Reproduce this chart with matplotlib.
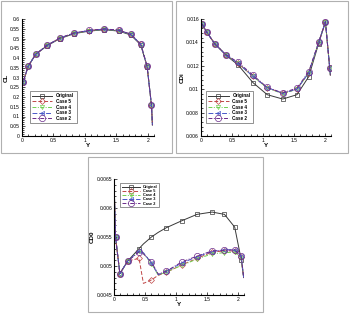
import numpy as np
import matplotlib
matplotlib.use('Agg')
import matplotlib.pyplot as plt
from matplotlib.patches import Rectangle
from matplotlib.ticker import MultipleLocator, AutoMinorLocator

plt.rcParams['font.family'] = ['Liberation Sans', 'DejaVu Sans']

# spanwise stations (Y)
y_cl = [0.0, 0.02, 0.10, 0.22, 0.40, 0.60, 0.83, 1.07, 1.31, 1.54, 1.73, 1.89, 1.99, 2.06, 2.075]
cl_orig = [0.25, 0.279, 0.359, 0.419, 0.463, 0.499, 0.525, 0.538, 0.545, 0.538, 0.518, 0.467, 0.356, 0.157, 0.056]
cl_case5 = [0.25, 0.279, 0.359, 0.420, 0.465, 0.502, 0.528, 0.541, 0.548, 0.542, 0.522, 0.470, 0.358, 0.158, 0.056]
cl_case4 = [0.25, 0.279, 0.359, 0.420, 0.465, 0.501, 0.527, 0.540, 0.547, 0.541, 0.521, 0.469, 0.358, 0.158, 0.056]
cl_case3 = [0.25, 0.279, 0.359, 0.420, 0.465, 0.502, 0.528, 0.541, 0.548, 0.542, 0.522, 0.470, 0.358, 0.158, 0.056]
cl_case2 = [0.25, 0.279, 0.359, 0.420, 0.465, 0.502, 0.528, 0.542, 0.549, 0.543, 0.522, 0.470, 0.358, 0.158, 0.056]

y_cdi = [0.0, 0.02, 0.09, 0.22, 0.40, 0.60, 0.84, 1.07, 1.32, 1.55, 1.74, 1.90, 2.01, 2.08, 2.09]
cdi_orig = [0.0156, 0.01554, 0.0149, 0.0139, 0.01292, 0.01207, 0.01056, 0.00953, 0.00916, 0.00953, 0.01107, 0.0139, 0.01574, 0.01178, 0.0112]
cdi_case5 = [0.0156, 0.01554, 0.0149, 0.0139, 0.01295, 0.0122, 0.0111, 0.01013, 0.00965, 0.0100, 0.0114, 0.0140, 0.01576, 0.01178, 0.0112]
cdi_case4 = [0.0156, 0.01554, 0.0149, 0.0139, 0.01295, 0.0122, 0.0111, 0.01010, 0.00962, 0.0100, 0.0114, 0.0140, 0.01576, 0.01178, 0.0112]
cdi_case3 = [0.0156, 0.01554, 0.0149, 0.0139, 0.01295, 0.0122, 0.0111, 0.01013, 0.00966, 0.0100, 0.0114, 0.0140, 0.01576, 0.01178, 0.0112]
cdi_case2 = [0.0156, 0.01554, 0.0149, 0.0139, 0.01296, 0.0123, 0.0112, 0.01015, 0.00968, 0.0101, 0.0115, 0.0140, 0.01576, 0.01178, 0.0112]

y_cd0 = [0.0, 0.02, 0.09, 0.22, 0.40, 0.47, 0.60, 0.71, 0.84, 1.09, 1.335, 1.58, 1.78, 1.945, 2.05, 2.09]
cd0_orig = [0.0063, 0.0055, 0.00487, 0.00509, 0.00530, 0.00538, 0.00550, 0.00558, 0.00566, 0.00578, 0.00589, 0.00593, 0.00589, 0.00567, 0.00511, 0.00480]
cd0_case5 = [0.0063, 0.0055, 0.00487, 0.00509, 0.00513, 0.00470, 0.00476, 0.00484, 0.00489, 0.00502, 0.00513, 0.00524, 0.00526, 0.00526, 0.00515, 0.00480]
cd0_case4 = [0.0063, 0.0055, 0.00487, 0.00509, 0.00526, 0.00522, 0.00504, 0.00484, 0.00490, 0.00501, 0.00512, 0.00521, 0.00523, 0.00524, 0.00514, 0.00480]
cd0_case3 = [0.0063, 0.0055, 0.00487, 0.00509, 0.00526, 0.00523, 0.00505, 0.00485, 0.00491, 0.00505, 0.00516, 0.00525, 0.00528, 0.00528, 0.00518, 0.00480]
cd0_case2 = [0.0063, 0.0055, 0.00487, 0.00509, 0.00524, 0.00521, 0.00507, 0.00486, 0.00491, 0.00507, 0.00517, 0.00526, 0.00527, 0.00528, 0.00517, 0.00480]

names = ['Original', 'Case 5', 'Case 4', 'Case 3', 'Case 2']
colors = ['#383838', '#c04848', '#70d050', '#4858c8', '#6a2a8a']
styles = ['-', (0, (4, 2)), (0, (4, 1.5, 1, 1.5)), (0, (5, 2)), (0, (4, 1.5, 1, 1.5))]
markers = ['s', 'D', 'v', '<', 'o']
msizes = [3, 3, 3, 3, 4.5]

fig = plt.figure(figsize=(3.5, 3.14), dpi=100)

# grey frames around each panel
for (x0, y0, w, h) in [(1, 1, 171, 152), (176, 1, 172, 152), (88, 157, 175, 155)]:
    fig.patches.append(Rectangle((x0 / 350, 1 - (y0 + h) / 314), w / 350, h / 314,
                                 transform=fig.transFigure, fill=False,
                                 edgecolor='#b0b0b0', linewidth=0.8))


def panel(rect, ys, series, ylim, ystep, ylabel, mark_idx, leg_kw, leg_size, leg_space):
    ax = fig.add_axes(rect)
    for s, name, c, ls, m, ms in zip(series, names, colors, styles, markers, msizes):
        ax.plot(ys, s, color=c, linestyle=ls, linewidth=0.7, marker=m, markersize=ms,
                markerfacecolor='none', markeredgewidth=0.5, markevery=mark_idx, label=name)
    ax.set_xlim(0, 2.1)
    ax.set_ylim(*ylim)
    ax.yaxis.set_major_locator(MultipleLocator(ystep))
    ax.xaxis.set_minor_locator(AutoMinorLocator(5))
    ax.yaxis.set_minor_locator(AutoMinorLocator(5))
    ax.spines['top'].set_visible(False)
    ax.spines['right'].set_visible(False)
    ax.spines['left'].set_linewidth(0.8)
    ax.spines['bottom'].set_linewidth(0.8)
    ax.tick_params(which='both', direction='in', labelsize=3.6, pad=1.5, width=0.5)
    ax.tick_params(which='major', length=2.5)
    ax.tick_params(which='minor', length=1.3)
    ax.set_xticks([0, 0.5, 1, 1.5, 2])
    ax.set_xticklabels(['0', '0.5', '1', '1.5', '2'])
    ax.yaxis.set_major_formatter(plt.FuncFormatter(
        lambda v, pos: ('%.4f' % v).rstrip('0').rstrip('.')))
    ax.set_xlabel('Y', fontsize=4.5, fontweight='bold', labelpad=0)
    ax.set_ylabel(ylabel, fontsize=4.5, fontweight='bold', labelpad=1)
    leg = ax.legend(prop={'weight': 'bold', 'size': leg_size},
                    handlelength=4.5, borderpad=0.5, labelspacing=leg_space,
                    fancybox=False, edgecolor='#404040', **leg_kw)
    leg.get_frame().set_linewidth(0.5)
    return ax


panel([22 / 350, 1 - 136 / 314, 132 / 350, 117 / 314], y_cl,
      [cl_orig, cl_case5, cl_case4, cl_case3, cl_case2], (0, 0.6), 0.05, 'CL',
      list(range(1, 14)), dict(loc='lower left', bbox_to_anchor=(0.04, 0.09)), 3.3, 0.15)

panel([201 / 350, 1 - 136 / 314, 130 / 350, 117 / 314], y_cdi,
      [cdi_orig, cdi_case5, cdi_case4, cdi_case3, cdi_case2], (0.006, 0.016), 0.002, 'CDi',
      list(range(1, 14)), dict(loc='lower left', bbox_to_anchor=(0.02, 0.09)), 3.3, 0.15)

mk3 = [1, 2, 3, 4, 6, 8, 9, 10, 11, 12, 13, 14]
panel([114.3 / 350, 1 - 295 / 314, 130 / 350, 116 / 314], y_cd0,
      [cd0_orig, cd0_case5, cd0_case4, cd0_case3, cd0_case2], (0.0045, 0.0065), 0.0005, 'CD0',
      mk3, dict(loc='upper left', bbox_to_anchor=(0.03, 0.98)), 2.8, 0.02)

fig.savefig('out.png', dpi=100)
